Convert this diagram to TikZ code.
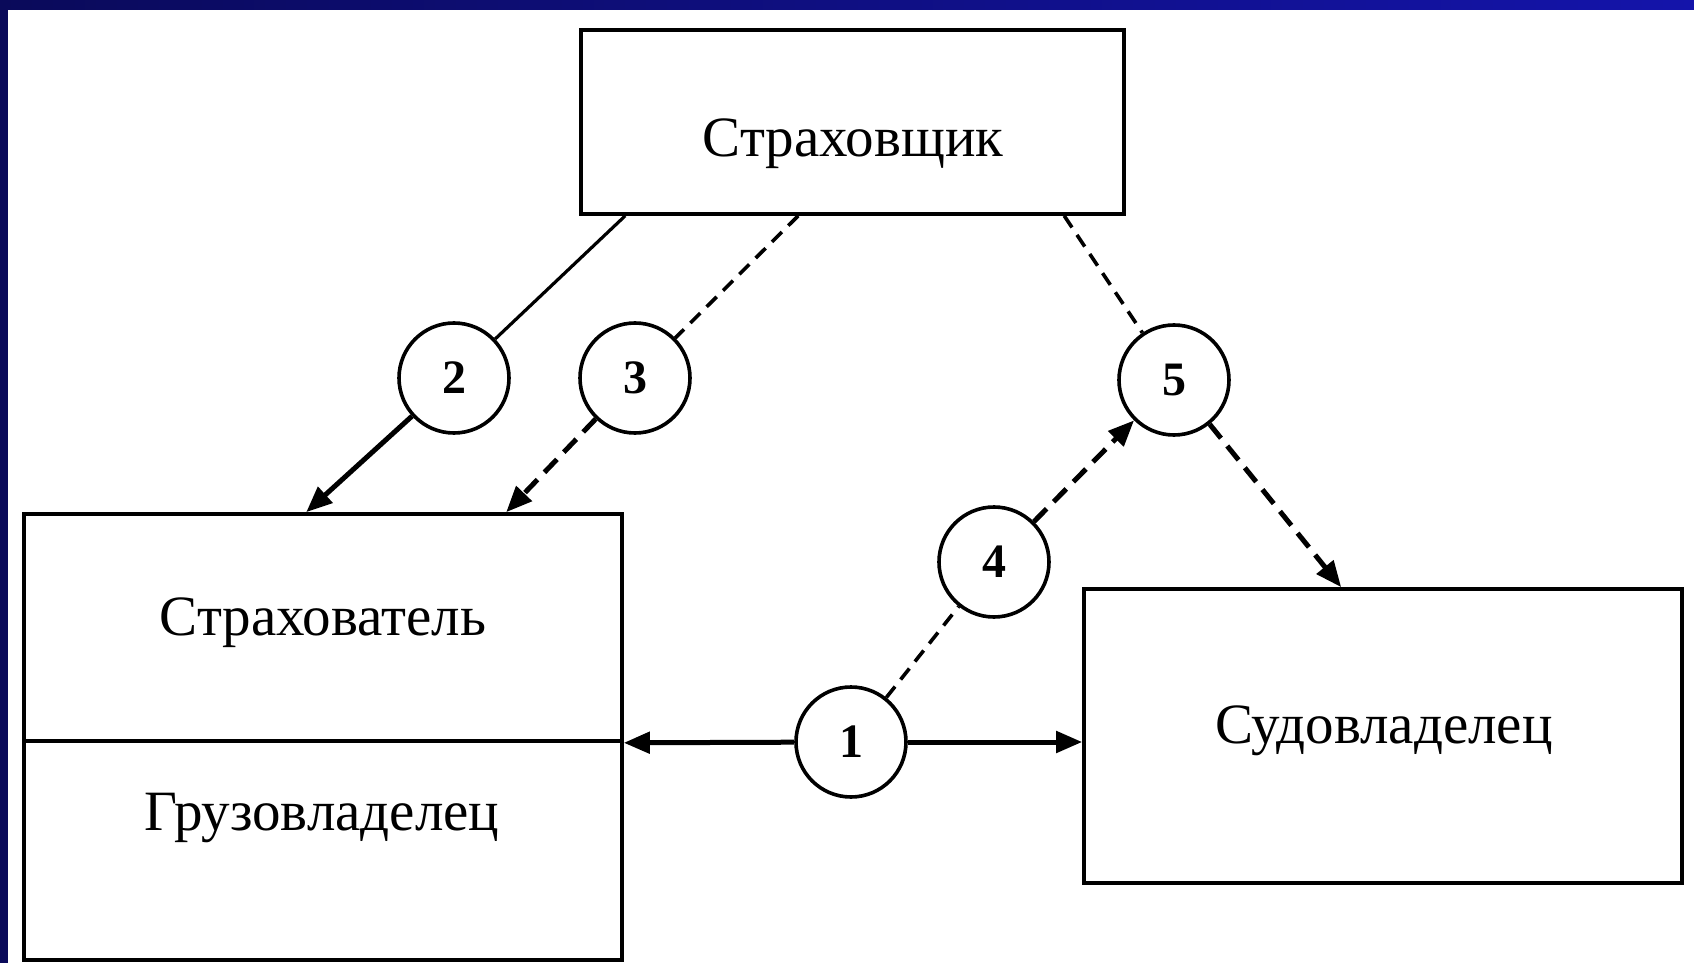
\documentclass[tikz,border=0pt]{standalone}
\usepackage{fontspec}
\setmainfont{Liberation Serif}
\usetikzlibrary{arrows.meta,calc}
\definecolor{navyA}{RGB}{10,10,90}
\definecolor{navyB}{RGB}{20,20,170}
\begin{document}
\begin{tikzpicture}[x=0.5pt,y=-0.5pt,
  box/.style={draw,line width=1.8pt,inner sep=0pt},
  lbl/.style={font=\fontsize{28.5}{32}\selectfont,inner sep=0pt,anchor=base},
  num/.style={circle,draw,line width=1.8pt,minimum size=55pt,inner sep=0pt,fill=white,font=\bfseries\fontsize{24}{26}\selectfont},
  tip/.style={-{Triangle[length=13pt,width=10.5pt]}},
  thinsolid/.style={line width=1.6pt},
  thicksolid/.style={line width=2.5pt},
  thindash/.style={line width=1.8pt,dash pattern=on 7pt off 4.5pt},
  thickdash/.style={line width=2.5pt,dash pattern=on 9pt off 5pt}]
\useasboundingbox (0,0) rectangle (1694,963);
\fill[white] (0,0) rectangle (1694,963);
\shade[left color=navyA,right color=navyB] (0,0) rectangle (1694,10);
\fill[navyA] (0,0) rectangle (8,963);
% boxes
\node[box,minimum width=271.5pt,minimum height=92pt] (ins) at (852.5,122) {};
\node[box,minimum width=299pt,minimum height=113.5pt] (holder) at (323,627.5) {};
\node[box,minimum width=299pt,minimum height=109.5pt] (cargo) at (323,850.5) {};
\node[box,minimum width=299pt,minimum height=147pt] (ship) at (1383,736) {};
% labels
\node[lbl] (tins) at (853,157) {Страховщик};
\node[lbl] (tholder) at (323,635) {Страхователь};
\node[lbl] (tcargo) at (322,830) {Грузовладелец};
\node[lbl] (tship) at (1384,743) {Судовладелец};
% numbered circles
\node[num] (c2) at (454,378) {2};
\node[num] (c3) at (635,378) {3};
\node[num] (c5) at (1174,380) {5};
\node[num] (c4) at (994,562) {4};
\node[num] (c1) at (851,742) {1};
% attachment points
\coordinate (s2) at ($(ins.south west)+(46,0)$);
\coordinate (e2) at ($(holder.north west)+(284,0)$);
\coordinate (s3) at ($(ins.south west)+(219,0)$);
\coordinate (e3) at ($(holder.north west)+(484,0)$);
\coordinate (s5) at ($(ins.south west)+(485,0)$);
\coordinate (e5) at ($(ship.north west)+(259,0)$);
\coordinate (e1l) at (holder.south east);
\coordinate (e1r) at (ship.west |- c1);
% connectors
\draw[thinsolid] (s2) -- (c2);
\draw[thicksolid,tip] (c2) -- (e2);
\draw[thindash] (s3) -- (c3);
\draw[thickdash,tip] (c3) -- (e3);
\draw[thindash] (s5) -- (c5);
\draw[thickdash,tip] (c5) -- (e5);
\draw[thindash] (c1) -- (c4);
\draw[thickdash,tip] (c4) -- (c5);
\draw[thicksolid,tip] (c1) -- (e1l);
\draw[thicksolid,tip] (c1) -- (e1r);
\end{tikzpicture}
\end{document}
